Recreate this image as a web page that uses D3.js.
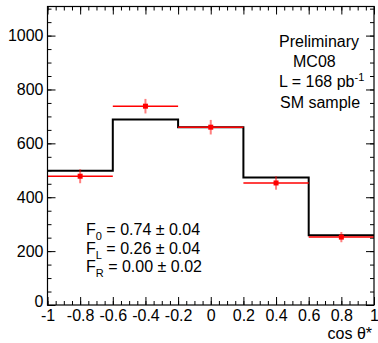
<!DOCTYPE html>
<html>
<head>
<meta charset="utf-8">
<script src="https://cdn.jsdelivr.net/npm/d3@7"></script>
<style>
  body { margin: 0; background: #fff; }
  svg { display: block; }
  text { font-family: "Liberation Sans", Arial, sans-serif; fill: #000; }
</style>
</head>
<body>
<div id="chart"></div>
<script>
// bin edges of cos theta*, MC histogram and data points
const binEdges = [-1, -0.6, -0.2, 0.2, 0.6, 1];
const mcValues = [498, 689, 660, 473, 259];
const dataX = [-0.8, -0.4, 0, 0.4, 0.8];
const dataY = [478, 738, 660, 453, 252];
const dataErr = [26, 27, 27, 25, 19];

const xTicks = [-1, -0.8, -0.6, -0.4, -0.2, 0, 0.2, 0.4, 0.6, 0.8, 1];
const yTicks = [0, 200, 400, 600, 800, 1000];

const infoLines = ['Preliminary', 'MC08', 'L = 168 pb', 'SM sample'];
const fitLines = [
    { sub: '0', txt: ' = 0.74 ± 0.04' },
    { sub: 'L', txt: ' = 0.26 ± 0.04' },
    { sub: 'R', txt: ' = 0.00 ± 0.02' }
];

const W = 378, H = 343;
const margin = { top: 6.5, right: 4, bottom: 38, left: 47.5 };
const width = W - margin.left - margin.right;
const height = H - margin.top - margin.bottom;

const svg = d3.select('#chart').append('svg')
    .attr('width', W).attr('height', H);
const g = svg.append('g')
    .attr('transform', `translate(${margin.left},${margin.top})`);

const x = d3.scaleLinear().domain([-1, 1]).range([0, width]);
const y = d3.scaleLinear().domain([0, 1108]).range([height, 0]);

// minor ticks
const xMinor = d3.range(-1, 1.0001, 0.05).map(v => +v.toFixed(2));
const yMinor = d3.range(0, 1101, 50);

function styleAxis(sel) {
    sel.select('.domain').remove();
    sel.selectAll('line').attr('stroke', '#000').attr('stroke-width', 1);
    sel.selectAll('text').style('font-size', '16px')
        .style('font-family', '"Liberation Sans", Arial, sans-serif');
}

// y minor, left and right
g.append('g').call(d3.axisLeft(y).tickValues(yMinor).tickSize(-4).tickFormat(''))
    .call(styleAxis);
g.append('g').attr('transform', `translate(${width},0)`)
    .call(d3.axisRight(y).tickValues(yMinor).tickSize(-4).tickFormat(''))
    .call(styleAxis);
// y major
g.append('g').call(d3.axisLeft(y).tickValues(yTicks).tickSize(-8).tickPadding(4)
    .tickFormat(d3.format('d')))
    .call(styleAxis)
    .selectAll('text').filter(d => d === 0).attr('dy', '0.1em');
g.append('g').attr('transform', `translate(${width},0)`)
    .call(d3.axisRight(y).tickValues(yTicks).tickSize(-8).tickFormat(''))
    .call(styleAxis);

// x minor, bottom and top
g.append('g').attr('transform', `translate(0,${height})`)
    .call(d3.axisBottom(x).tickValues(xMinor).tickSize(-4).tickFormat(''))
    .call(styleAxis);
g.append('g')
    .call(d3.axisTop(x).tickValues(xMinor).tickSize(-4).tickFormat(''))
    .call(styleAxis);
// x major
g.append('g').attr('transform', `translate(0,${height})`)
    .call(d3.axisBottom(x).tickValues(xTicks).tickSize(-8).tickPadding(5)
        .tickFormat(d => d3.format('')(d).replace('−', '-')))
    .call(styleAxis);
g.append('g')
    .call(d3.axisTop(x).tickValues(xTicks).tickSize(-8).tickFormat(''))
    .call(styleAxis);

// MC histogram as a step line
const stepPts = [];
mcValues.forEach((v, i) => {
    stepPts.push([binEdges[i], v]);
    stepPts.push([binEdges[i + 1], v]);
});
g.append('path')
    .datum(stepPts)
    .attr('fill', 'none')
    .attr('stroke', '#000')
    .attr('stroke-width', 2)
    .attr('d', d3.line().x(d => x(d[0])).y(d => y(d[1])));

// data points with errors
const pts = dataX.map((v, i) => ({ x: v, y: dataY[i], e: dataErr[i], lo: binEdges[i], hi: binEdges[i + 1] }));
const pg = g.append('g');
pg.selectAll('.hbar').data(pts).enter().append('line')
    .attr('x1', d => x(d.lo)).attr('x2', d => x(d.hi))
    .attr('y1', d => y(d.y)).attr('y2', d => y(d.y))
    .attr('stroke', '#ff0000').attr('stroke-width', 1.5);
pg.selectAll('.vbar').data(pts).enter().append('line')
    .attr('x1', d => x(d.x)).attr('x2', d => x(d.x))
    .attr('y1', d => y(d.y - d.e)).attr('y2', d => y(d.y + d.e))
    .attr('stroke', 'rgba(255,0,0,0.5)').attr('stroke-width', 2);
pg.selectAll('.mk').data(pts).enter().append('rect')
    .attr('x', d => x(d.x) - 2.5).attr('y', d => y(d.y) - 2.5)
    .attr('width', 5).attr('height', 5)
    .attr('fill', '#ff0000');

// frame
g.append('rect').attr('width', width).attr('height', height)
    .attr('fill', 'none').attr('stroke', '#000').attr('stroke-width', 1.2);

// axis title
svg.append('text')
    .attr('x', 372).attr('y', 339)
    .attr('text-anchor', 'end')
    .style('font-size', '16px')
    .text('cos θ*');

// info box text
const infoX = [279, 293, 279, 280];
infoLines.forEach((t, i) => {
    const txt = svg.append('text')
        .attr('x', infoX[i]).attr('y', 47 + i * 20.2)
        .style('font-size', '16px')
        .text(t);
    if (i === 2) {
        txt.append('tspan').attr('dy', -6).style('font-size', '11px').text('-1');
    }
});

// fit results
fitLines.forEach((f, i) => {
    const txt = svg.append('text')
        .attr('x', 86).attr('y', 235 + i * 18.5)
        .style('font-size', '16px')
        .text('F');
    txt.append('tspan').attr('dy', 5).style('font-size', '11px').text(f.sub);
    txt.append('tspan').attr('dy', -5).text(f.txt);
});
</script>
</body>
</html>
